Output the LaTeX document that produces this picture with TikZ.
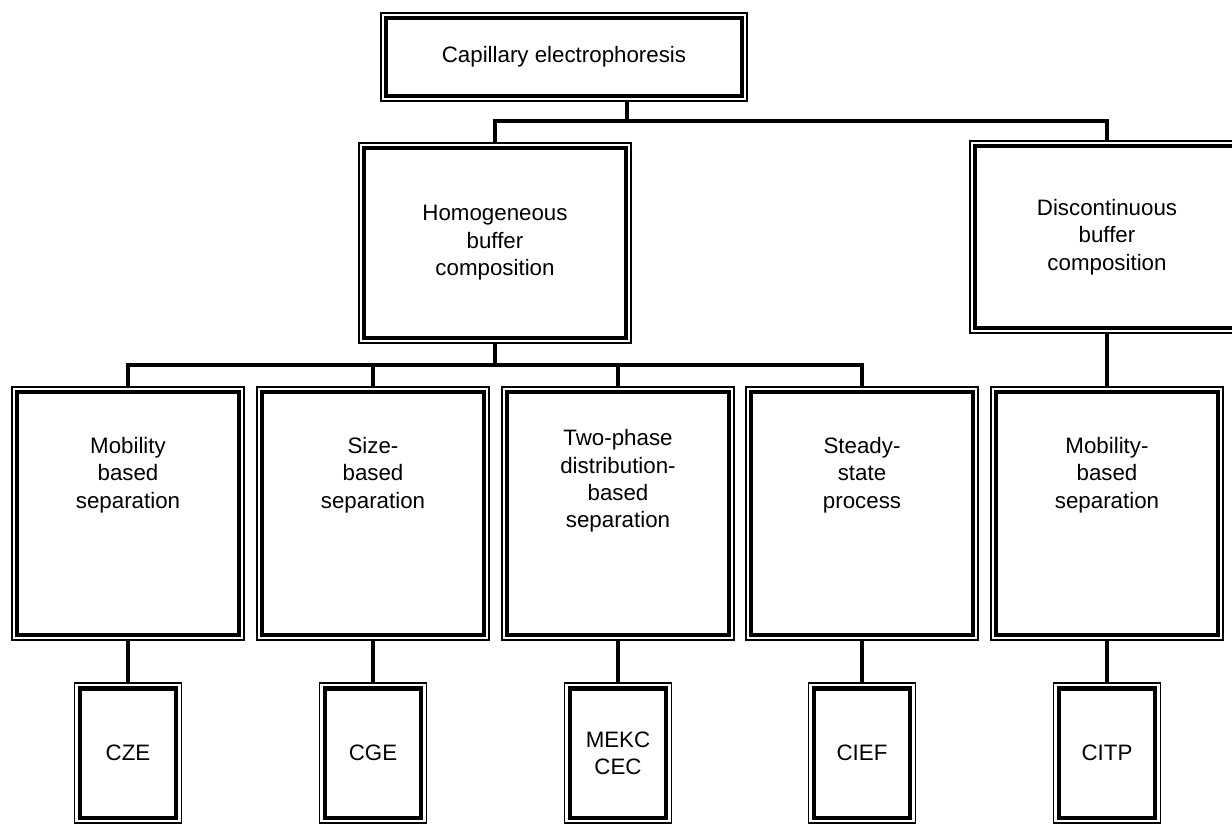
\documentclass[tikz,border=0pt]{standalone}
\usepackage{fontspec}
\setmainfont{Liberation Sans}
\usetikzlibrary{positioning}

\begin{document}
\begin{tikzpicture}[
		node distance=0.86cm,
		box/.style={draw, line width=2.5pt, outer sep=3pt, fill=white},
		frame/.style={draw, line width=0.8pt},
		link/.style={line width=2.2pt},
		txt/.style={align=center, font=\fontsize{12.7}{15.6}\selectfont},
		big/.style={box, minimum width=4.43cm, minimum height=4.85cm},
		small/.style={box, minimum width=1.93cm, minimum height=2.59cm}
	]
		\useasboundingbox (0,0) rectangle (24.64,-16.5);
		% top level
		\node[box, minimum width=7.11cm, minimum height=1.55cm] (cap) at (11.28,-1.14) {};
		\node[txt] (capt) at (cap.center) {Capillary electrophoresis};
		\node[box, minimum width=5.23cm, minimum height=3.79cm] (homo) at (9.9,-4.86) {};
		\node[txt] (homot) at (homo.center) {Homogeneous\\buffer\\composition};
		\node[box, minimum width=5.27cm, minimum height=3.63cm] (disc) at (22.14,-4.74) {};
		\node[txt] (disct) at (disc.center) {Discontinuous\\buffer\\composition};
		% separation principles
		\node[big] (mob) at (2.56,-10.27) {};
		\node[txt] (mobt) at ([yshift=0.77cm]mob.center) {Mobility\\based\\separation};
		\node[big] (size) at (7.46,-10.27) {};
		\node[txt] (sizet) at ([yshift=0.77cm]size.center) {Size-\\based\\separation};
		\node[big] (twophase) at (12.36,-10.27) {};
		\node[txt] (twophaset) at ([yshift=0.65cm]twophase.center) {Two-phase\\distribution-\\based\\separation};
		\node[big] (steady) at (17.24,-10.27) {};
		\node[txt] (steadyt) at ([yshift=0.77cm]steady.center) {Steady-\\state\\process};
		\node[big] (mobdisc) at (22.14,-10.27) {};
		\node[txt] (mobdisct) at ([yshift=0.77cm]mobdisc.center) {Mobility-\\based\\separation};
		% methods
		\node[small, below=of mob] (cze) {};
		\node[txt] (czet) at (cze.center) {CZE};
		\node[small, below=of size] (cge) {};
		\node[txt] (cget) at (cge.center) {CGE};
		\node[small, below=of twophase] (mekc) {};
		\node[txt] (mekct) at (mekc.center) {MEKC\\CEC};
		\node[small, below=of steady] (cief) {};
		\node[txt] (cieft) at (cief.center) {CIEF};
		\node[small, below=of mobdisc] (citp) {};
		\node[txt] (citpt) at (citp.center) {CITP};

		\foreach \n in {cap,homo,disc,mob,size,twophase,steady,mobdisc,cze,cge,mekc,cief,citp}
			\draw[frame] (\n.south west) rectangle (\n.north east);

		% connectors
		\coordinate (split1) at (12.54,-2.42);
		\coordinate (split2) at (9.9,-7.3);
		\draw[link] (split1 |- cap.south) -- (split1);
		\draw[link] (homo.north) |- (split1) -| (disc.north);
		\draw[link] (homo.south) -- (split2);
		\draw[link] (mob.north) -- (mob.north |- split2) -- (steady.north |- split2) -- (steady.north);
		\draw[link] (size.north) -- (size.north |- split2);
		\draw[link] (twophase.north) -- (twophase.north |- split2);
		\draw[link] (disc.south) -- (mobdisc.north);
		\draw[link] (mob.south) -- (cze.north);
		\draw[link] (size.south) -- (cge.north);
		\draw[link] (twophase.south) -- (mekc.north);
		\draw[link] (steady.south) -- (cief.north);
		\draw[link] (mobdisc.south) -- (citp.north);
	\end{tikzpicture}
\end{document}
